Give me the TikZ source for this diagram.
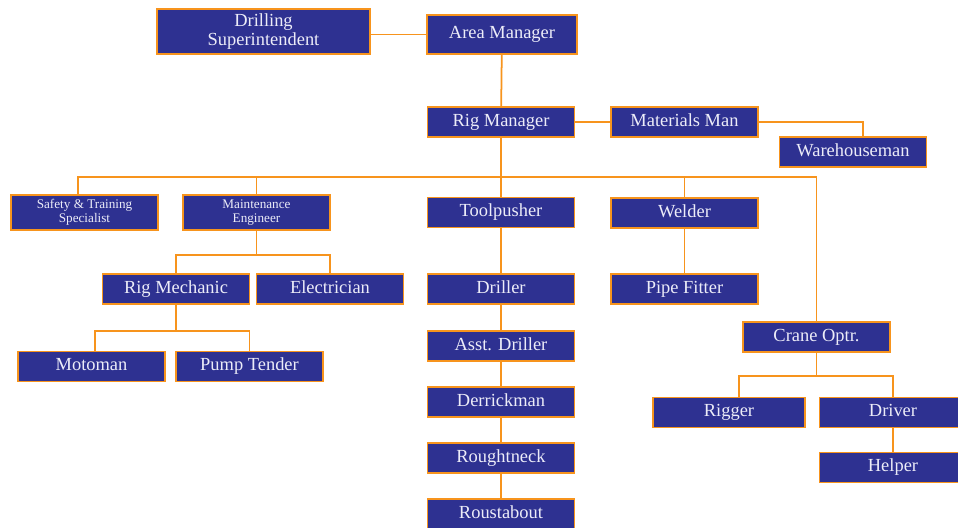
\documentclass[tikz,border=0pt]{standalone}
\usepackage{fontspec}
\setmainfont{Liberation Serif}
\definecolor{rigblue}{RGB}{46,49,145}
\definecolor{rigorange}{RGB}{247,148,29}
\definecolor{rigtext}{RGB}{236,236,248}

\begin{document}
\begin{tikzpicture}[x=0.02cm, y=-0.02cm,
    box/.style={draw=rigorange, fill=rigblue, text=rigtext, line width=1pt,
      minimum width=2.94cm, minimum height=0.6cm, inner sep=1pt, align=center,
      font=\fontsize{10.5}{11}\selectfont},
    post/.style={box, text height=1.55ex, text depth=0.45ex},
    smallpost/.style={box, minimum height=0.7cm, font=\fontsize{7.5}{8}\selectfont},
    link/.style={draw=rigorange, line width=1pt}]
    \clip (0,0) rectangle (958,528);

    % top
    \node[box, minimum width=4.26cm, minimum height=0.9cm] (super) at (263.5,31.5) {Drilling\\Superintendent};
    \node[post, minimum width=3cm, minimum height=0.78cm] (area) at (502,34.5) {Area Manager};
    \node[post] (rigmgr) at (501,122) {Rig Manager};
    \node[post] (matman) at (684.5,122) {Materials Man};
    \node[post] (wareh) at (853,152) {Warehouseman};

    % second row
    \node[smallpost] (safety) at (84.5,212.5) {Safety \& Training\\Specialist};
    \node[smallpost] (mainteng) at (256.5,212.5) {Maintenance\\Engineer};
    \node[post] (toolp) at (501,212.5) {Toolpusher};
    \node[post] (welder) at (684.5,213) {Welder};

    % maintenance side
    \node[post] (rigmech) at (176,289) {Rig Mechanic};
    \node[post] (electr) at (330,289) {Electrician};
    \node[post] (motoman) at (91.5,366.5) {Motoman};
    \node[post] (pumpt) at (249.5,366.5) {Pump Tender};

    % drilling crew
    \node[post] (driller) at (501,289) {Driller};
    \node[post] (asst) at (501,346) {Asst. Driller};
    \node[post] (derrick) at (501,402) {Derrickman};
    \node[post] (rough) at (501,458) {Roughtneck};
    \node[post] (roust) at (501,514) {Roustabout};

    \node[post] (pipef) at (684.5,289) {Pipe Fitter};

    % crane
    \node[post] (crane) at (816.5,337) {Crane Optr.};
    \node[post, minimum width=3.04cm] (rigger) at (729,412.5) {Rigger};
    \node[post] (driver) at (893,412.5) {Driver};
    \node[post] (helper) at (893,467.5) {Helper};

    \coordinate (bus) at (0,177);
    \coordinate (mjoin) at (0,255);
    \coordinate (rjoin) at (0,331);
    \coordinate (cjoin) at (0,376);

    \draw[link] (super.east |- area.west) -- (area.west);
    \draw[link] (area) -- (rigmgr);
    \draw[link] (rigmgr) -- (matman);
    \draw[link] (matman.east) -| ([xshift=0.2cm]wareh.north);

    \draw[link] (rigmgr.south) -- (toolp.north);
    \draw[link] ([xshift=-0.13cm]safety.north) |- (bus -| crane.north) -- (crane.north);
    \draw[link] (mainteng.north |- bus) -- (mainteng.north);
    \draw[link] (welder.north |- bus) -- (welder.north);

    \draw[link] (mainteng.south) -- (mainteng.south |- mjoin);
    \draw[link] (rigmech.north) |- (mjoin -| electr.north) -- (electr.north);
    \draw[link] (rigmech.south) -- (rigmech.south |- rjoin);
    \draw[link] ([xshift=0.07cm]motoman.north) |- (rjoin -| pumpt.north) -- (pumpt.north);

    \draw[link] (toolp) -- (driller);
    \draw[link] (driller) -- (asst);
    \draw[link] (asst) -- (derrick);
    \draw[link] (derrick) -- (rough);
    \draw[link] (rough) -- (roust);
    \draw[link] (welder) -- (pipef);

    \draw[link] (crane.south) -- (crane.south |- cjoin);
    \draw[link] ([xshift=0.2cm]rigger.north) |- (cjoin -| driver.north) -- (driver.north);
    \draw[link] (driver) -- (helper);
\end{tikzpicture}
\end{document}
